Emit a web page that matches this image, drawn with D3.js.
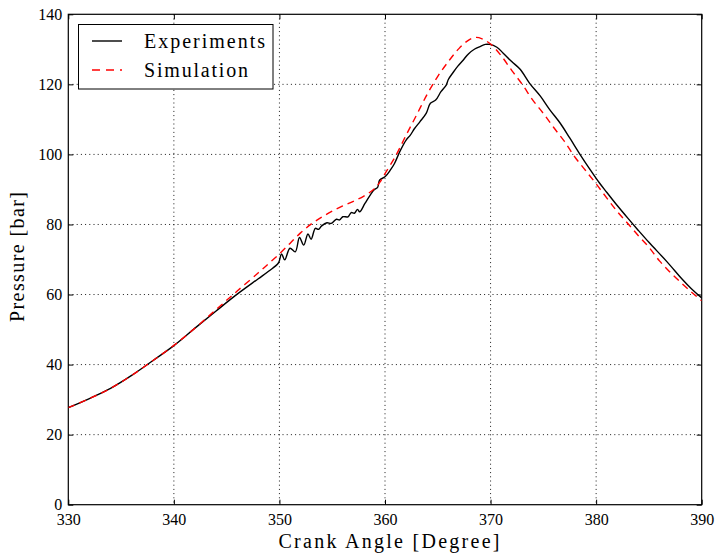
<!DOCTYPE html>
<html>
<head>
<meta charset="utf-8">
<script src="https://cdn.jsdelivr.net/npm/d3@7"></script>
<style>
body { margin: 0; background: #fff; }
</style>
</head>
<body>
<div id="chart"></div>
<script>
var expAngle = [330, 332, 334, 336, 338, 340, 342, 344, 346, 348, 349, 349.9, 350.2, 350.5, 351.0, 351.5,
    351.9, 352.3, 352.7, 353.0, 353.4, 353.7, 354.0, 354.5, 354.9, 355.4, 355.7, 356.0, 356.5, 356.8,
    357.1, 357.4, 357.6, 358.1, 358.6, 359.0, 359.3, 359.5, 360.0, 360.5, 360.9, 361.4, 362.0, 362.4,
    362.8, 363.3, 363.9, 364.3, 364.8, 365.3, 365.8, 366.0, 366.5, 366.9, 367.4, 367.9, 368.5, 369.0,
    369.5, 369.9, 370.6, 371.2, 372.0, 372.8, 373.7, 374.7, 375.6, 376.6, 377.5, 378.5, 379.4, 380.3,
    381.0, 382.0, 383.0, 384.0, 385.0, 386.7, 388.2, 389.0, 390];
var expPressure = [27.7, 30.3, 33.2, 36.9, 41.1, 45.4, 50.4, 55.3, 60.1, 64.5, 66.7, 69.0, 71.6, 69.9, 73.2, 72.2,
    76.3, 74.1, 77.3, 75.8, 78.9, 78.6, 79.6, 80.5, 80.3, 81.5, 81.3, 82.2, 82.2, 83.4,
    83.2, 84.3, 83.6, 86.0, 88.4, 90.0, 90.6, 92.7, 93.6, 95.5, 97.4, 100.8, 104.1, 105.5,
    107.4, 109.3, 111.7, 114.6, 115.5, 117.9, 119.8, 121.4, 123.6, 125.2, 126.9, 128.7, 130.1, 130.8,
    131.4, 131.4, 130.6, 128.9, 126.5, 124.3, 120.3, 116.7, 112.8, 108.9, 104.7, 99.9, 95.8, 91.9,
    89.2, 85.4, 81.8, 78.3, 74.9, 69.4, 64.2, 61.7, 59.0];

var simAngle = [330, 332, 334, 336, 338, 340, 342, 344, 346, 348, 349, 350, 351, 352, 353, 354, 355, 356, 357,
    358, 359, 359.5, 360, 361, 362, 363, 364, 365, 366, 367, 368, 368.6, 369.2, 370, 371, 372, 373, 374,
    375, 376, 377, 378, 379, 380, 381, 382, 383, 384, 385, 386, 387, 388, 389, 390];
var simPressure = [27.7, 30.3, 33.2, 36.9, 41.1, 45.5, 50.4, 55.7, 61.0, 66.2, 68.9, 71.6, 74.6, 77.6, 80.1, 82.1,
    83.8, 85.3, 86.6, 88.1, 90.2, 92.0, 94.5, 99.5, 105.5, 111.3, 117.2, 122.3, 126.5, 130.2, 132.8, 133.4,
    133.0, 131.5, 128.2, 124.0, 120.0, 115.5, 111.7, 107.6, 103.7, 99.2, 95.4, 91.6, 87.6, 83.7, 80.3,
    76.8, 73.5, 69.6, 66.4, 63.5, 60.8, 58.2];

var xTicks = [330, 340, 350, 360, 370, 380, 390];
var yTicks = [0, 20, 40, 60, 80, 100, 120, 140];

var legendLabels = ["Experiments", "Simulation"];

var width = 716, height = 554;
var pLeft = 68.3, pRight = 701.7, pTop = 14.3, pBottom = 504.7;
var serif = "'Liberation Serif'";

var svg = d3.select("#chart").append("svg")
    .attr("width", width)
    .attr("height", height);

var x = d3.scaleLinear().domain([330, 390]).range([pLeft, pRight]);
var y = d3.scaleLinear().domain([0, 140]).range([pBottom, pTop]);

// dotted grid
svg.append("g").selectAll("line")
    .data(xTicks.slice(1, -1))
    .enter().append("line")
    .attr("x1", function(d){ return x(d); })
    .attr("x2", function(d){ return x(d); })
    .attr("y1", pTop)
    .attr("y2", pBottom)
    .attr("stroke", "#000")
    .attr("stroke-width", 0.9)
    .attr("stroke-dasharray", "1,3.2");

svg.append("g").selectAll("line")
    .data(yTicks.slice(1, -1))
    .enter().append("line")
    .attr("x1", pLeft)
    .attr("x2", pRight)
    .attr("y1", function(d){ return y(d); })
    .attr("y2", function(d){ return y(d); })
    .attr("stroke", "#000")
    .attr("stroke-width", 0.9)
    .attr("stroke-dasharray", "1,3.2");

// axes with inward ticks on all four sides
var tickLen = 5;
svg.append("g")
    .attr("transform", "translate(0," + pBottom + ")")
    .call(d3.axisBottom(x).tickValues(xTicks).tickSize(-tickLen).tickPadding(9).tickFormat(d3.format("d")));
svg.append("g")
    .attr("transform", "translate(0," + pTop + ")")
    .call(d3.axisTop(x).tickValues(xTicks).tickSize(-tickLen).tickFormat(""));
svg.append("g")
    .attr("transform", "translate(" + pLeft + ",0)")
    .call(d3.axisLeft(y).tickValues(yTicks).tickSize(-tickLen).tickPadding(6).tickFormat(d3.format("d")));
svg.append("g")
    .attr("transform", "translate(" + pRight + ",0)")
    .call(d3.axisRight(y).tickValues(yTicks).tickSize(-tickLen).tickFormat(""));

svg.selectAll(".domain").remove();
svg.selectAll(".tick line").attr("stroke", "#000").attr("stroke-width", 1);
svg.selectAll(".tick text")
    .style("font-family", serif)
    .style("font-size", "16px")
    .attr("fill", "#000");

svg.append("rect")
    .attr("x", pLeft)
    .attr("y", pTop)
    .attr("width", pRight - pLeft)
    .attr("height", pBottom - pTop)
    .attr("fill", "none")
    .attr("stroke", "#000")
    .attr("stroke-width", 1.2);

svg.append("clipPath").attr("id", "clip")
    .append("rect")
    .attr("x", pLeft).attr("y", pTop)
    .attr("width", pRight - pLeft).attr("height", pBottom - pTop);

var line = d3.line()
    .x(function(d){ return x(d[0]); })
    .y(function(d){ return y(d[1]); })
    .curve(d3.curveCatmullRom.alpha(0.5));

var expData = d3.zip(expAngle, expPressure);
var simData = d3.zip(simAngle, simPressure);

svg.append("path")
    .datum(expData)
    .attr("clip-path", "url(#clip)")
    .attr("d", line)
    .attr("fill", "none")
    .attr("stroke", "#000")
    .attr("stroke-width", 1.4);

svg.append("path")
    .datum(simData)
    .attr("clip-path", "url(#clip)")
    .attr("d", line)
    .attr("fill", "none")
    .attr("stroke", "#ff0000")
    .attr("stroke-width", 1.4)
    .attr("stroke-dasharray", "7,5");

// legend
var legend = svg.append("g");
legend.append("rect")
    .attr("x", 78.5)
    .attr("y", 24.5)
    .attr("width", 194.5)
    .attr("height", 64.5)
    .attr("fill", "#fff")
    .attr("stroke", "#000")
    .attr("stroke-width", 1);

var items = legend.selectAll("g.item")
    .data(legendLabels)
    .enter().append("g")
    .attr("transform", function(d, i){ return "translate(0," + (41 + i * 29) + ")"; });

items.append("line")
    .attr("x1", 92)
    .attr("x2", 122)
    .attr("stroke", function(d, i){ return i ? "#ff0000" : "#000"; })
    .attr("stroke-width", 1.4)
    .attr("stroke-dasharray", function(d, i){ return i ? "8,6" : null; });

items.append("text")
    .attr("x", 144)
    .attr("y", 7)
    .attr("textLength", function(d, i){ return i ? 104 : 121; })
    .attr("lengthAdjust", "spacing")
    .style("font-family", serif)
    .style("font-size", "20px")
    .text(function(d){ return d; });

// axis titles
svg.append("text")
    .attr("x", 389)
    .attr("y", 548)
    .attr("text-anchor", "middle")
    .attr("textLength", 221)
    .attr("lengthAdjust", "spacing")
    .style("font-family", serif)
    .style("font-size", "20px")
    .text("Crank Angle [Degree]");

svg.append("text")
    .attr("transform", "translate(24," + 257 + ") rotate(-90)")
    .attr("text-anchor", "middle")
    .attr("textLength", 130)
    .attr("lengthAdjust", "spacing")
    .style("font-family", serif)
    .style("font-size", "20px")
    .text("Pressure [bar]");
</script>
</body>
</html>
